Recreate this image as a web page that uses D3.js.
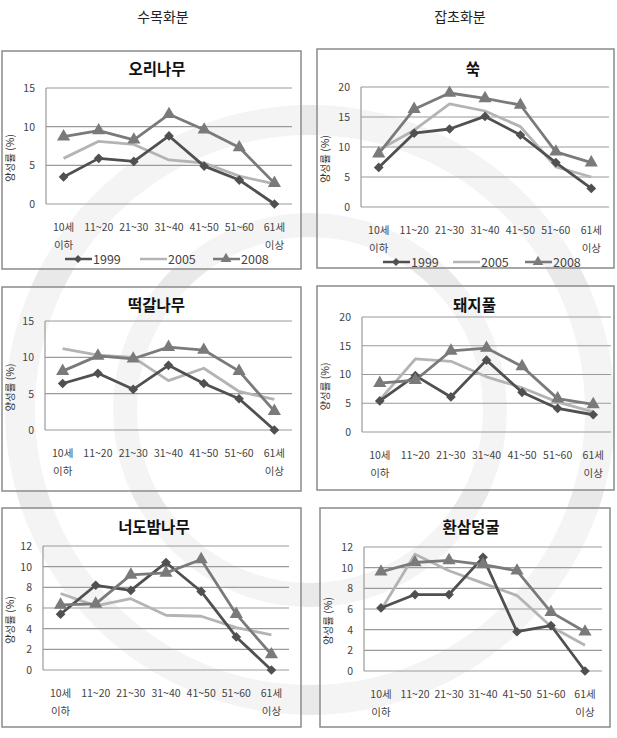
<!DOCTYPE html>
<html>
<head>
<meta charset="utf-8">
<script src="https://cdn.jsdelivr.net/npm/d3@7"></script>
<style>
  body { margin: 0; background: #fff; }
  svg text { font-family: "Noto Sans CJK KR", "Noto Sans", sans-serif; }
</style>
</head>
<body>
<div id="chart"></div>
<script>
// data
var columnHeads = ["수목화분", "잡초화분"];
var years = ["1999", "2005", "2008"];
var catTop = ["10세", "11~20", "21~30", "31~40", "41~50", "51~60", "61세"];
var catBottom = ["이하", "", "", "", "", "", "이상"];

var titles = ["오리나무", "쑥", "떡갈나무", "돼지풀", "너도밤나무", "환삼덩굴"];
var yMaxes = [15, 20, 15, 20, 12, 12];
var ySteps = [5, 5, 5, 5, 2, 2];

var ori = [
  [3.5, 5.9, 5.5, 8.8, 4.9, 3.1, 0],
  [5.9, 8.1, 7.7, 5.7, 5.3, 3.6, 2.6],
  [8.7, 9.5, 8.3, 11.6, 9.6, 7.3, 2.7]
];
var ssuk = [
  [6.6, 12.3, 13.0, 15.1, 12.0, 7.4, 3.1],
  [9.5, 12.8, 17.2, 16.0, 13.4, 6.7, 5.0],
  [8.9, 16.3, 19.0, 18.1, 17.0, 9.2, 7.4]
];
var ttekgal = [
  [6.4, 7.8, 5.6, 8.9, 6.4, 4.3, 0],
  [11.2, 10.3, 10.0, 6.8, 8.5, 5.3, 4.2],
  [8.1, 10.2, 9.8, 11.4, 11.0, 8.1, 2.6]
];
var dwaeji = [
  [5.4, 9.8, 6.1, 12.5, 6.9, 4.1, 3.0],
  [5.6, 12.7, 12.3, 9.6, 7.7, 5.2, 3.5],
  [8.5, 9.0, 14.1, 14.6, 11.4, 5.8, 4.8]
];
var neodo = [
  [5.4, 8.2, 7.7, 10.4, 7.6, 3.2, 0],
  [7.4, 6.2, 6.9, 5.3, 5.2, 4.1, 3.4],
  [6.3, 6.4, 9.2, 9.4, 10.7, 5.4, 1.5]
];
var hwansam = [
  [6.1, 7.4, 7.4, 11.0, 3.8, 4.4, 0],
  [5.9, 11.3, 9.7, 8.5, 7.3, 4.3, 2.5],
  [9.6, 10.5, 10.7, 10.3, 9.7, 5.7, 3.8]
];
var panelValues = [ori, ssuk, ttekgal, dwaeji, neodo, hwansam];
var hasLegend = [true, true, false, false, false, false];

// layout of each panel: box and plot area
var layout = [
  { box: [2, 51, 299, 218], plot: [46, 88, 292, 204], title: 69 },
  { box: [317, 49, 297, 219], plot: [361, 87, 609, 207], title: 69 },
  { box: [2, 287, 299, 204], plot: [45, 321, 292, 430], title: 305 },
  { box: [317, 286, 297, 204], plot: [362, 317, 611, 432], title: 305 },
  { box: [2, 508, 299, 219], plot: [43, 546, 289, 670], title: 527 },
  { box: [320, 508, 290, 219], plot: [364, 547, 602, 671], title: 527 }
];

var seriesColor = ["#505050", "#b4b4b4", "#7a7a7a"];

var svg = d3.select("#chart").append("svg")
  .attr("width", 617)
  .attr("height", 738);

// faint seal watermark in the background
var wm = svg.append("g").attr("fill", "none").attr("stroke", "#e9e9e9");
wm.append("circle").attr("cx", 310).attr("cy", 410).attr("r", 290).attr("stroke-width", 30);
wm.append("circle").attr("cx", 310).attr("cy", 410).attr("r", 185).attr("stroke-width", 24);

svg.selectAll("text.head").data(columnHeads).enter()
  .append("text")
  .attr("class", "head")
  .attr("x", (d, i) => i == 0 ? 163 : 460)
  .attr("y", 22)
  .attr("text-anchor", "middle")
  .style("font-size", "14px")
  .style("fill", "#222")
  .text(d => d);

layout.forEach(function(L, p) {
  var g = svg.append("g");

  g.append("rect")
    .attr("x", L.box[0]).attr("y", L.box[1])
    .attr("width", L.box[2]).attr("height", L.box[3])
    .attr("fill", "rgba(255,255,255,0.5)")
    .attr("stroke", "#8a8a8a")
    .attr("stroke-width", 1.5);

  g.append("text")
    .attr("x", (L.plot[0] + L.plot[2]) / 2 - 12)
    .attr("y", L.title + 6)
    .attr("text-anchor", "middle")
    .style("font-size", "15.5px")
    .style("font-weight", "bold")
    .style("fill", "#111")
    .text(titles[p]);

  var x = d3.scaleBand().domain(catTop).range([L.plot[0], L.plot[2]]);
  var y = d3.scaleLinear().domain([0, yMaxes[p]]).range([L.plot[3], L.plot[1]]);
  var ticks = d3.range(0, yMaxes[p] + 0.01, ySteps[p]);

  // gridlines
  g.selectAll("line.grid").data(ticks).enter()
    .append("line")
    .attr("x1", L.plot[0]).attr("x2", L.plot[2])
    .attr("y1", d => y(d)).attr("y2", d => y(d))
    .attr("stroke", "#9a9a9a")
    .attr("stroke-width", 1.2);

  g.append("line")
    .attr("x1", L.plot[0]).attr("x2", L.plot[0])
    .attr("y1", L.plot[1]).attr("y2", L.plot[3])
    .attr("stroke", "#9a9a9a")
    .attr("stroke-width", 1.2);

  // y axis
  var yAxis = d3.axisLeft(y).tickValues(ticks).tickSize(0).tickPadding(11);
  var yg = g.append("g").attr("transform", `translate(${L.plot[0]},0)`).call(yAxis);
  yg.select(".domain").remove();
  yg.selectAll("text").style("font-size", "10.5px").style("fill", "#444");

  g.append("text")
    .attr("transform", `translate(${L.box[0] + 12}, ${(L.plot[1] + L.plot[3]) / 2 + 12}) rotate(-90)`)
    .attr("text-anchor", "middle")
    .style("font-size", "10.5px")
    .style("fill", "#333")
    .text("양성률 (%)");

  // x axis labels, two lines
  var xAxis = d3.axisBottom(x).tickSize(0).tickPadding(0);
  var xg = g.append("g").attr("transform", `translate(0,${L.plot[3]})`).call(xAxis);
  xg.select(".domain").remove();
  xg.selectAll(".tick text").remove();
  xg.selectAll(".tick").each(function(d, i) {
    var t = d3.select(this);
    t.append("text").attr("y", 27).attr("text-anchor", "middle")
      .style("font-size", "10.5px").style("fill", "#444").text(catTop[i]);
    t.append("text").attr("y", 45).attr("text-anchor", "middle")
      .style("font-size", "10.5px").style("fill", "#444").text(catBottom[i]);
  });

  // lines
  var line = d3.line()
    .x((d, i) => x(catTop[i]) + x.bandwidth() / 2)
    .y(d => y(d));

  var vals = panelValues[p];
  [1, 0, 2].forEach(function(s) {
    g.append("path")
      .datum(vals[s])
      .attr("d", line)
      .attr("fill", "none")
      .attr("stroke", seriesColor[s])
      .attr("stroke-width", 2.8)
      .attr("stroke-linejoin", "round");
  });

  g.selectAll("path.dia").data(vals[0]).enter()
    .append("path")
    .attr("d", d3.symbol(d3.symbolDiamond2, 60))
    .attr("transform", (d, i) => `translate(${x(catTop[i]) + x.bandwidth() / 2},${y(d)})`)
    .attr("fill", seriesColor[0]);

  g.selectAll("path.tri").data(vals[2]).enter()
    .append("path")
    .attr("d", d3.symbol(d3.symbolTriangle, 75))
    .attr("transform", (d, i) => `translate(${x(catTop[i]) + x.bandwidth() / 2},${y(d)})`)
    .attr("fill", seriesColor[2]);

  // legend
  if (hasLegend[p]) {
    var ly = L.plot[3] + 55;
    var starts = p == 0 ? [65, 140, 213] : [383, 453, 525];
    starts.forEach(function(sx, s) {
      var lg = g.append("g");
      lg.append("line")
        .attr("x1", sx).attr("x2", sx + 27)
        .attr("y1", ly).attr("y2", ly)
        .attr("stroke", seriesColor[s]).attr("stroke-width", 2.5);
      if (s == 0) {
        lg.append("path").attr("d", d3.symbol(d3.symbolDiamond2, 40))
          .attr("transform", `translate(${sx + 13},${ly})`).attr("fill", seriesColor[0]);
      }
      if (s == 2) {
        lg.append("path").attr("d", d3.symbol(d3.symbolTriangle, 50))
          .attr("transform", `translate(${sx + 13},${ly})`).attr("fill", seriesColor[2]);
      }
      lg.append("text")
        .attr("x", sx + 28).attr("y", ly + 5)
        .style("font-size", "12.5px").style("fill", "#444")
        .text(years[s]);
    });
  }
});
</script>
</body>
</html>
